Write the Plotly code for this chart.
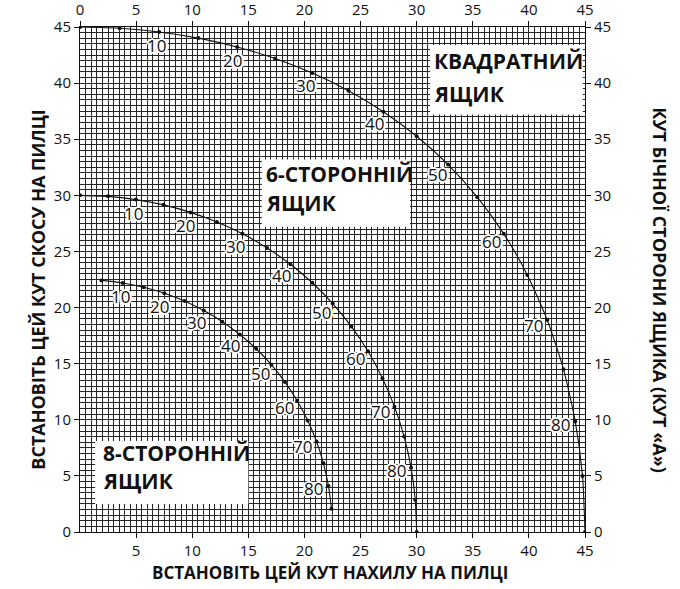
import plotly.graph_objects as go
import math

# Side angle of the box (angle "A"), degrees
side_angle = [0, 5, 10, 15, 20, 25, 30, 35, 40, 45, 50, 55, 60, 65, 70, 75, 80, 85, 90]
side_angle_8 = [5, 10, 15, 20, 25, 30, 35, 40, 45, 50, 55, 60, 65, 70, 75, 80, 85]

# Square box: blade tilt (x) and miter (y)
square_tilt = [0, 3.53, 7.05, 10.55, 14.00, 17.39, 20.70, 23.93, 27.03, 30.00,
               32.80, 35.40, 37.76, 39.86, 41.64, 43.08, 44.13, 44.78, 45.00]
square_miter = [45.00, 44.89, 44.56, 44.01, 43.22, 42.19, 40.89, 39.32, 37.45, 35.26,
                32.74, 29.84, 26.57, 22.91, 18.88, 14.51, 9.85, 4.98, 0]

# Six-sided box
hex_tilt = [0, 2.50, 4.98, 7.44, 9.85, 12.20, 14.48, 16.67, 18.75, 20.70,
            22.52, 24.18, 25.66, 26.95, 28.02, 28.88, 29.50, 29.87, 30.00]
hex_miter = [30.00, 29.91, 29.62, 29.15, 28.48, 27.62, 26.57, 25.31, 23.86, 22.21,
             20.36, 18.32, 16.10, 13.71, 11.17, 8.50, 5.73, 2.88, 0]

# Eight-sided box
oct_tilt = [1.91, 3.81, 5.68, 7.52, 9.31, 11.03, 12.68, 14.24, 15.70,
            17.05, 18.27, 19.35, 20.29, 21.08, 21.69, 22.14, 22.41]
oct_miter = [22.42, 22.19, 21.81, 21.27, 20.58, 19.73, 18.74, 17.60, 16.33,
             14.91, 13.36, 11.70, 9.93, 8.06, 6.12, 4.11, 2.07]

labelled_angles = [10, 20, 30, 40, 50, 60, 70, 80]
axis_ticks = [0, 5, 10, 15, 20, 25, 30, 35, 40, 45]
bottom_ticks = [5, 10, 15, 20, 25, 30, 35, 40, 45]

title_bottom = "ВСТАНОВІТЬ ЦЕЙ КУТ НАХИЛУ НА ПИЛЦІ"
title_left = "ВСТАНОВІТЬ ЦЕЙ КУТ СКОСУ НА ПИЛЦІ"
title_right = "КУТ БІЧНОЇ СТОРОНИ ЯЩИКА (КУТ «А»)"
box_names = [("КВАДРАТНИЙ", "ЯЩИК"), ("6-СТОРОННІЙ", "ЯЩИК"), ("8-СТОРОННІЙ", "ЯЩИК")]

INK = "#111111"
GRID = "#262626"
TICK_FONT = dict(family="Open Sans", size=15, color=INK)
BOLD = "Open Sans"

fig = go.Figure()

curves = [
    (side_angle, square_tilt, square_miter),
    (side_angle, hex_tilt, hex_miter),
    (side_angle_8, oct_tilt, oct_miter),
]

# white outline around the angle numbers
halo = ", ".join(f"white {dx}px {dy}px 0px" for dx, dy in
                 [(1, 0), (-1, 0), (0, 1), (0, -1), (1, 1), (-1, -1), (1, -1), (-1, 1),
                  (2, 0), (-2, 0), (0, 2), (0, -2), (2, 1), (-2, 1), (2, -1), (-2, -1)])

annotations = []
for angles, tilt, miter in curves:
    fig.add_trace(go.Scatter(
        x=tilt, y=miter, mode="lines+markers",
        line=dict(color=INK, width=1.1, shape="spline", smoothing=0.6),
        marker=dict(size=4, color=INK),
        showlegend=False, hoverinfo="skip",
    ))
    # angle labels, pushed off the curve toward the origin
    for a, tx, my in zip(angles, tilt, miter):
        if a in labelled_angles:
            r = math.hypot(tx, my)
            annotations.append(dict(
                x=tx, y=my, xref="x", yref="y", text=str(a), showarrow=False,
                xshift=-15 * tx / r, yshift=-14 * my / r,
                font=dict(family="Open Sans", size=17, color=INK, shadow=halo),
            ))

# invisible trace so the mirrored top/right axes are laid out
fig.add_trace(go.Scatter(x=[0, 45], y=[0, 45], xaxis="x2", yaxis="y2",
                         mode="markers", marker=dict(opacity=0),
                         showlegend=False, hoverinfo="skip"))

# white panels behind the box names: (x0, x1, y0, y1, text x, line1 y, line2 y)
panels = [
    (31.2, 44.8, 37.2, 43.4, 31.4, 42.0, 39.0),
    (16.2, 29.4, 27.2, 33.2, 16.4, 31.9, 29.3),
    (1.35, 15.0, 2.5, 8.1, 1.9, 7.05, 4.55),
]
shapes = []
for (x0, x1, y0, y1, tx, l1, l2), (n1, n2) in zip(panels, box_names):
    shapes.append(dict(type="rect", xref="x", yref="y", x0=x0, x1=x1, y0=y0, y1=y1,
                       fillcolor="white", line=dict(width=0), layer="above"))
    for ty, txt in ((l1, n1), (l2, n2)):
        annotations.append(dict(x=tx, y=ty, xref="x", yref="y", text=txt,
                                showarrow=False, xanchor="left", yanchor="middle",
                                font=dict(family=BOLD, size=21, color=INK, weight=700)))

title_font = dict(family=BOLD, size=18, color=INK, weight=700)
annotations += [
    dict(text=title_bottom, xref="paper", yref="paper", x=0.497, y=-0.081,
         xanchor="center", yanchor="middle", showarrow=False,
         font=dict(title_font, size=17)),
    dict(text=title_left, xref="paper", yref="paper", x=-0.083, y=0.48, textangle=-90,
         xanchor="center", yanchor="middle", showarrow=False, font=title_font),
    dict(text=title_right, xref="paper", yref="paper", x=1.149, y=0.48, textangle=90,
         xanchor="center", yanchor="middle", showarrow=False, font=title_font),
]

common = dict(range=[0, 45], ticks="outside", ticklen=5, tickcolor=INK, tickwidth=1,
              showline=True, linecolor=INK, linewidth=1, zeroline=False,
              tickfont=TICK_FONT, fixedrange=True, automargin=False)
grid = dict(showgrid=True, gridcolor=GRID, gridwidth=1,
            minor=dict(tick0=0, dtick=0.5, showgrid=True, gridcolor=GRID, gridwidth=1))

fig.update_layout(
    width=680, height=589,
    margin=dict(l=80, r=95, t=27, b=57, autoexpand=False),
    paper_bgcolor="white", plot_bgcolor="white",
    xaxis=dict(tickvals=bottom_ticks, **common, **grid),
    yaxis=dict(tickvals=axis_ticks, **common, **grid),
    xaxis2=dict(tickvals=axis_ticks, overlaying="x", side="top", showgrid=False, **common),
    yaxis2=dict(tickvals=axis_ticks, overlaying="y", side="right", showgrid=False, **common),
    shapes=shapes,
    annotations=annotations,
)

fig.write_html("out.html")
